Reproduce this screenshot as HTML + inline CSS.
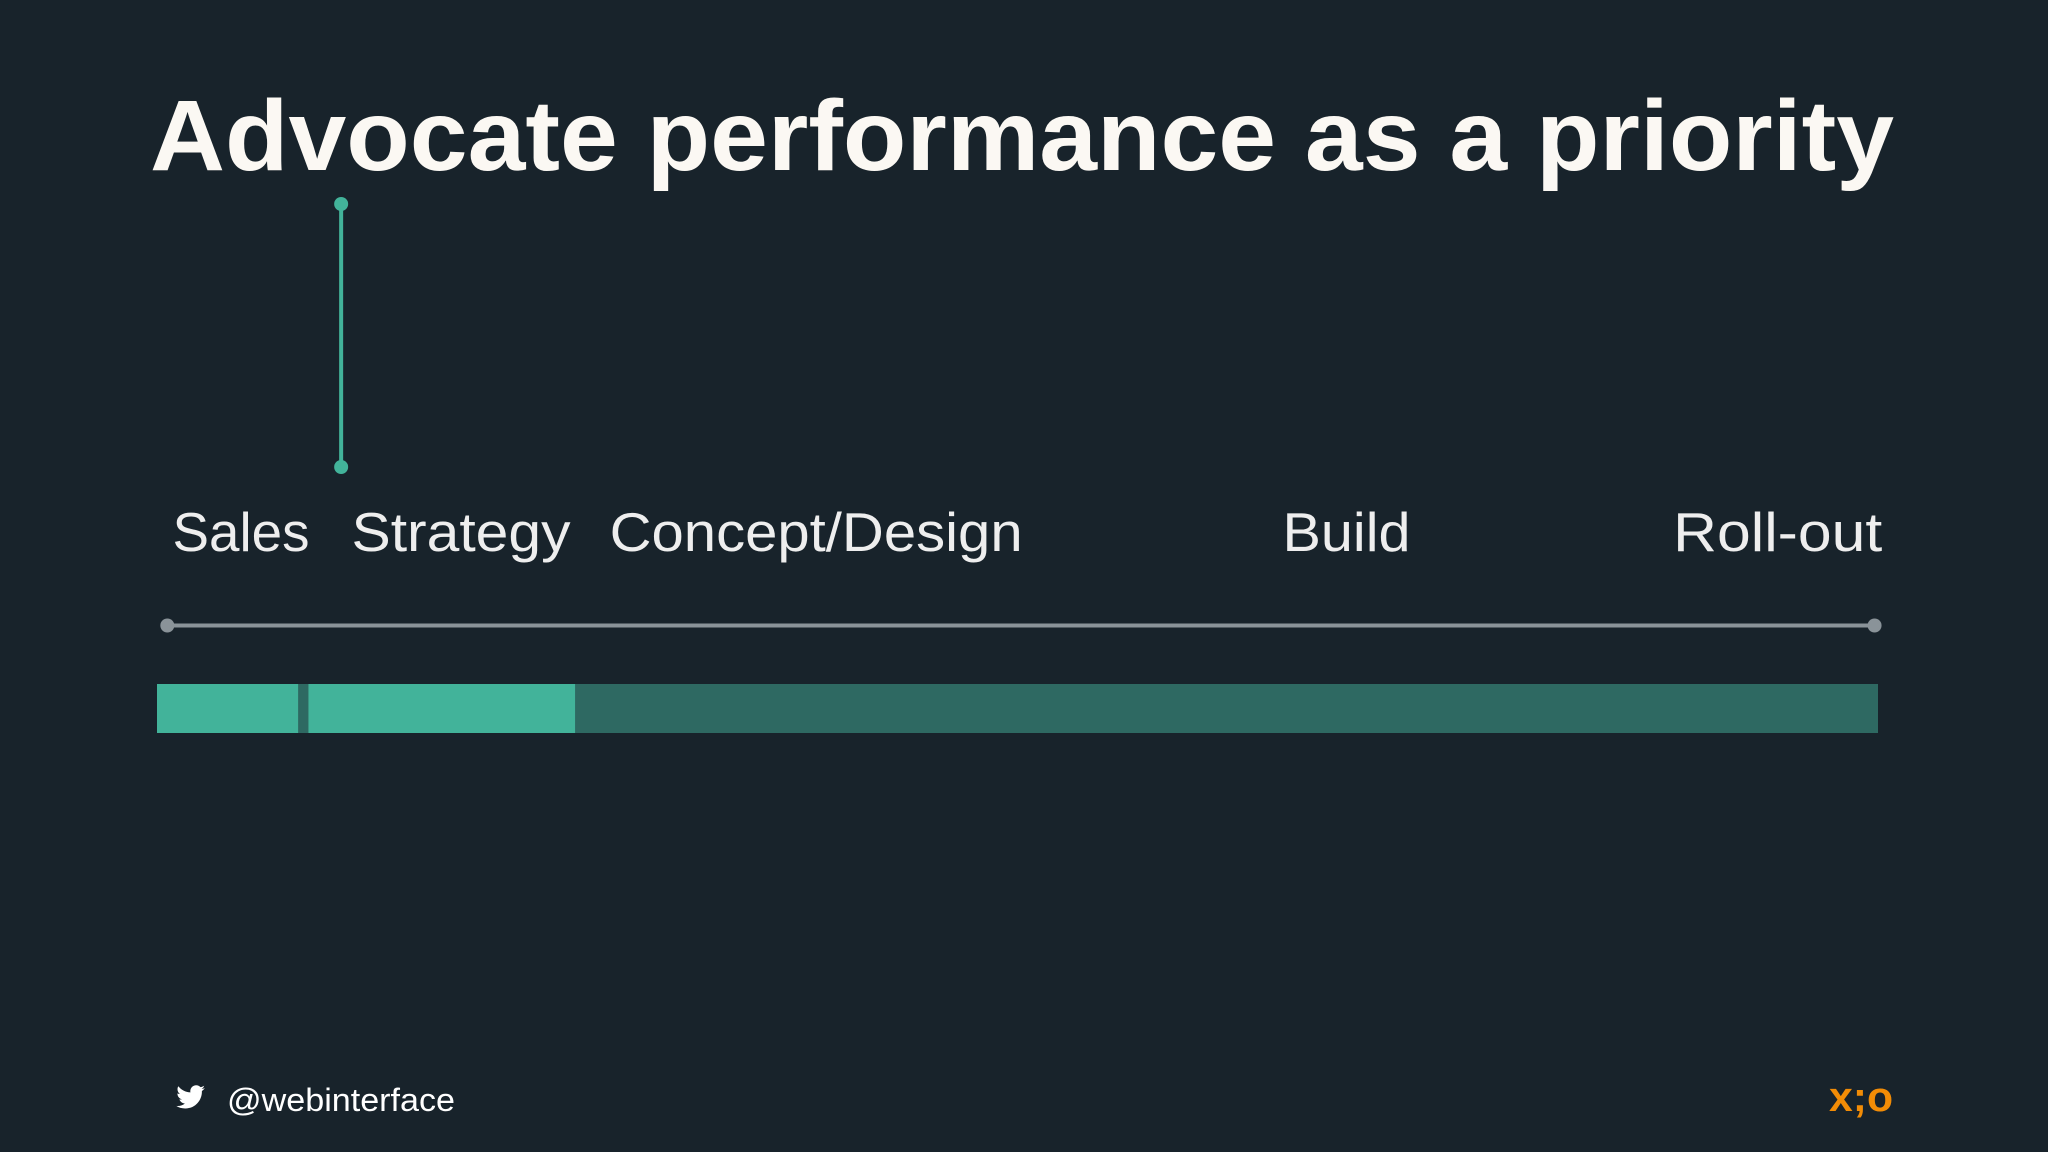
<!DOCTYPE html>
<html><head><meta charset="utf-8"><style>
html,body{margin:0;padding:0;background:#18232b;}
svg{display:block}
</style></head><body>
<svg id="chart" width="2048" height="1152" viewBox="0 0 2048 1152" xmlns="http://www.w3.org/2000/svg">
<rect width="2048" height="1152" fill="#18232b"/>
<text x="150" y="170" font-family="Liberation Sans, sans-serif" font-weight="bold" font-size="100" fill="#fbf8f3" textLength="1744" lengthAdjust="spacingAndGlyphs">Advocate performance as a priority</text>
<g id="marks"></g>
<g>
<path d="M205 1088c-1 .5-2.2.8-3.4 1 1.2-.7 2.1-1.9 2.6-3.3-1.1.7-2.4 1.2-3.7 1.4-1.1-1.2-2.6-1.9-4.3-1.9-3.3 0-5.9 2.6-5.9 5.9 0 .5 0 .9.2 1.3-4.9-.2-9.3-2.6-12.2-6.200-.5.9-.8 1.900-.8 3 0 2 1 3.800 2.600 4.900-1 0-1.900-.3-2.700-.7v.1c0 2.900 2 5.300 4.700 5.800-.5.1-1 .2-1.600.2-.4 0-.8 0-1.100-.1.8 2.300 2.900 4 5.500 4.100-2 1.600-4.600 2.500-7.300 2.500-.5 0-.9 0-1.400-.1 2.600 1.700 5.700 2.600 9 2.600 10.800 0 16.700-8.900 16.700-16.700v-.8c1.200-.8 2.200-1.900 3-3z" fill="#ffffff"/>
<text x="227" y="1111" font-family="Liberation Sans, sans-serif" font-size="32" fill="#ffffff" textLength="228" lengthAdjust="spacingAndGlyphs">@webinterface</text>
<text x="1829" y="1111" font-family="Liberation Sans, sans-serif" font-weight="bold" font-size="42" fill="#f28c06" textLength="64" lengthAdjust="spacingAndGlyphs">x;o</text>
</g>
</svg>
<script>
const phases = ["Sales","Strategy","Concept/Design","Build","Roll-out"];
const labelPos = [0.9, 11.3, 26.3, 65.4, 88.1];
const labelWidths = [137, 219, 413, 128, 209];
const segStart = [0, 8.8, 24.3];
const segEnd = [8.2, 24.3, 100];
const segActive = [true, true, false];
const markerAt = [10.7];
const W0 = 157, W1 = 1878;
function xs(v){ return W0 + (W1 - W0) * v / 100; }
const NS = "http://www.w3.org/2000/svg";
const g = document.getElementById("marks");
function mk(tag, attrs){ const e = document.createElementNS(NS, tag); for (const k in attrs) e.setAttribute(k, attrs[k]); g.appendChild(e); return e; }
const BAR_Y = 684, BAR_H = 49, AXIS_Y = 625.5;
let bg = mk("rect", {x: xs(0), y: BAR_Y, width: xs(100) - xs(0), height: BAR_H, fill: "#2e6962"});


segStart.forEach((s, i) => {
  const r = mk("rect", {x: xs(s), y: BAR_Y, width: xs(segEnd[i]) - xs(s), height: BAR_H, fill: segActive[i] ? "#42b39a" : "#2e6962"});
  
  
});
let ax = mk("line", {x1: xs(0.6), x2: xs(99.8), y1: AXIS_Y, y2: AXIS_Y, stroke: "#8a9399", "stroke-width": 4});


[0.6, 99.8].forEach((v, i) => {
  const c = mk("circle", {cx: xs(v), cy: AXIS_Y, r: 7, fill: "#8a9399"});
  
  
});
phases.forEach((p, i) => {
  const t = mk("text", {x: xs(labelPos[i]), y: 551, "font-family": "Liberation Sans, sans-serif", "font-size": 55, fill: "#eeeeee", textLength: labelWidths[i], lengthAdjust: "spacingAndGlyphs"});
  t.textContent = p;
  
  
});
markerAt.forEach(v => {
  const l = mk("line", {x1: xs(v), x2: xs(v), y1: 204, y2: 467, stroke: "#42b39a", "stroke-width": 4});
  
  
  [204, 467].forEach((y, j) => {
    const c = mk("circle", {cx: xs(v), cy: y, r: 7, fill: "#42b39a"});
    
    
  });
});
</script>
</body></html>
